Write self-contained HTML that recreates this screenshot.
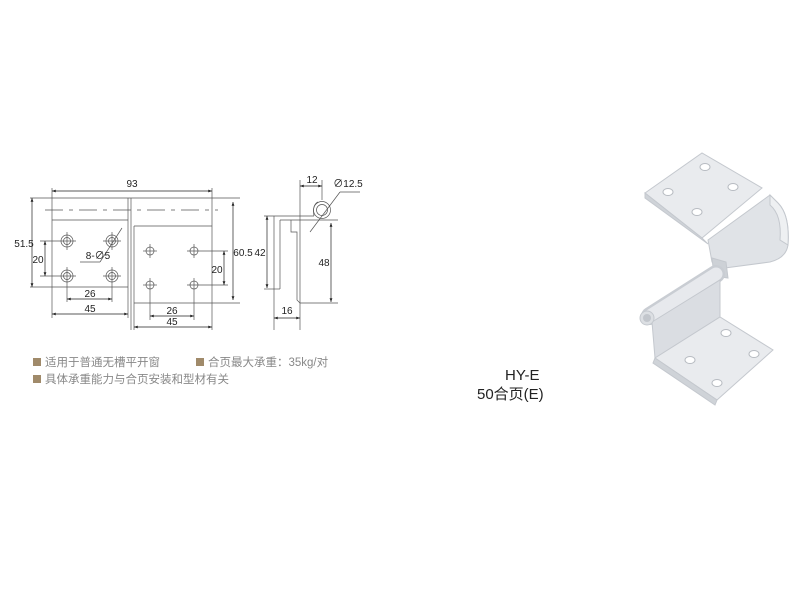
<!DOCTYPE html>
<html><head><meta charset="utf-8"><style>
html,body{margin:0;padding:0;background:#fff;width:800px;height:600px;overflow:hidden}
svg{display:block}
text{font-family:"Liberation Sans","Noto Sans CJK SC",sans-serif}
</style></head><body>
<svg width="800" height="600" viewBox="0 0 800 600" xmlns="http://www.w3.org/2000/svg">
<defs>
<marker id="a" viewBox="0 0 8 6" refX="8" refY="3" markerWidth="6" markerHeight="4" orient="auto-start-reverse"><path d="M0,0L8,3L0,6z" fill="#222"/></marker>
</defs>
<g stroke="#555" stroke-width="0.7" fill="none">
<line x1="30" y1="198" x2="240" y2="198"/>
<line x1="45" y1="210" x2="218" y2="210" stroke-dasharray="18,6,4,6"/>
<line x1="52" y1="188" x2="52" y2="318"/>
<line x1="52" y1="220" x2="128" y2="220"/>
<line x1="30" y1="287" x2="128" y2="287"/>
<line x1="128" y1="198" x2="128" y2="318"/>
<line x1="131" y1="198" x2="131" y2="330"/>
<line x1="134" y1="226" x2="212" y2="226"/>
<line x1="134" y1="226" x2="134" y2="330"/>
<line x1="212" y1="188" x2="212" y2="330"/>
<line x1="134" y1="303" x2="240" y2="303"/>
<g>
<circle cx="67" cy="241" r="6"/><circle cx="67" cy="241" r="3.5"/>
<circle cx="112" cy="241" r="6"/><circle cx="112" cy="241" r="3.5"/>
<circle cx="67" cy="276" r="6"/><circle cx="67" cy="276" r="3.5"/>
<circle cx="112" cy="276" r="6"/><circle cx="112" cy="276" r="3.5"/>
<line x1="58" y1="241" x2="76" y2="241"/><line x1="103" y1="241" x2="121" y2="241"/>
<line x1="40" y1="276" x2="76" y2="276"/><line x1="103" y1="276" x2="121" y2="276"/>
<line x1="40" y1="241" x2="58" y2="241"/>
<line x1="67" y1="232" x2="67" y2="250"/><line x1="112" y1="232" x2="112" y2="250"/>
<line x1="67" y1="267" x2="67" y2="302"/><line x1="112" y1="267" x2="112" y2="302"/>
</g>
<g>
<circle cx="150" cy="251" r="4"/><circle cx="194" cy="251" r="4"/>
<circle cx="150" cy="285" r="4"/><circle cx="194" cy="285" r="4"/>
<line x1="143" y1="251" x2="157" y2="251"/><line x1="187" y1="251" x2="228" y2="251"/>
<line x1="143" y1="285" x2="157" y2="285"/><line x1="187" y1="285" x2="228" y2="285"/>
<line x1="150" y1="244" x2="150" y2="258"/><line x1="194" y1="244" x2="194" y2="258"/>
<line x1="150" y1="278" x2="150" y2="320"/><line x1="194" y1="278" x2="194" y2="320"/>
</g>
<line x1="80" y1="262" x2="100" y2="262"/><line x1="100" y1="262" x2="122" y2="228"/>
</g>
<g stroke="#222" stroke-width="0.7" fill="none">
<line x1="52" y1="191" x2="212" y2="191" marker-start="url(#a)" marker-end="url(#a)"/>
<line x1="32" y1="198" x2="32" y2="287" marker-start="url(#a)" marker-end="url(#a)"/>
<line x1="45" y1="241" x2="45" y2="276" marker-start="url(#a)" marker-end="url(#a)"/>
<line x1="67" y1="299" x2="112" y2="299" marker-start="url(#a)" marker-end="url(#a)"/>
<line x1="52" y1="314" x2="128" y2="314" marker-start="url(#a)" marker-end="url(#a)"/>
<line x1="233" y1="202" x2="233" y2="300" marker-start="url(#a)" marker-end="url(#a)"/>
<line x1="224" y1="251" x2="224" y2="285" marker-start="url(#a)" marker-end="url(#a)"/>
<line x1="150" y1="316" x2="194" y2="316" marker-start="url(#a)" marker-end="url(#a)"/>
<line x1="134" y1="327" x2="212" y2="327" marker-start="url(#a)" marker-end="url(#a)"/>
</g>
<g font-size="10" fill="#222" text-anchor="middle">
<text x="132" y="187">93</text>
<text x="24" y="247">51.5</text>
<text x="38" y="263">20</text>
<text x="90" y="297">26</text>
<text x="90" y="312">45</text>
<text x="98" y="259">8-∅5</text>
<text x="243" y="256">60.5</text>
<text x="217" y="273">20</text>
<text x="172" y="314">26</text>
<text x="172" y="325">45</text>
</g>
<g stroke="#555" stroke-width="0.7" fill="none">
<line x1="264" y1="216" x2="314" y2="216"/>
<line x1="274" y1="216" x2="274" y2="330"/>
<line x1="280" y1="220" x2="280" y2="289"/>
<line x1="264" y1="289" x2="280" y2="289"/>
<line x1="280" y1="220" x2="338" y2="220"/>
<line x1="300" y1="180" x2="300" y2="330"/>
<line x1="322" y1="180" x2="322" y2="200"/>
<path d="M291,220V232H297V300L300,303H338"/>
<circle cx="322" cy="210" r="8.5"/><circle cx="322" cy="210" r="5.5"/>
<path d="M314,216Q312,205 318,202"/>
<line x1="310" y1="232" x2="340" y2="192"/>
<line x1="340" y1="192" x2="360" y2="192"/>
</g>
<g stroke="#222" stroke-width="0.7" fill="none">
<line x1="300" y1="186" x2="322" y2="186" marker-start="url(#a)" marker-end="url(#a)"/>
<line x1="267" y1="216" x2="267" y2="288" marker-start="url(#a)" marker-end="url(#a)"/>
<line x1="331" y1="223" x2="331" y2="302" marker-start="url(#a)" marker-end="url(#a)"/>
<line x1="274" y1="318" x2="300" y2="318" marker-start="url(#a)" marker-end="url(#a)"/>
</g>
<g font-size="10" fill="#222" text-anchor="middle">
<text x="312" y="183">12</text>
<text x="348" y="187">∅12.5</text>
<text x="260" y="256">42</text>
<text x="324" y="266">48</text>
<text x="287" y="314">16</text>
</g>
<g font-size="11.5" fill="#888">
<rect x="33" y="358" width="8" height="8" fill="#a08a6a"/>
<text x="45" y="366">适用于普通无槽平开窗</text>
<rect x="196" y="358" width="8" height="8" fill="#a08a6a"/>
<text x="208" y="366">合页最大承重：35kg/对</text>
<rect x="33" y="375" width="8" height="8" fill="#a08a6a"/>
<text x="45" y="383">具体承重能力与合页安装和型材有关</text>
</g>
<text x="505" y="380" font-size="15" fill="#222">HY-E</text>
<text x="477" y="399" font-size="15" fill="#222">50合页(E)</text>
<!-- hinge picture -->
<g stroke="#c4c8ce" stroke-width="1">
<!-- upper block with barrel -->
<path d="M708,240 L770,195 L778,203 Q790,215 788,245 Q786,258 770,262 L725,268 L712,262 Z" fill="#e0e3e7"/>
<path d="M770,195 L778,203 Q790,215 788,245 L780,240 Q782,215 770,205 Z" fill="#eef0f2"/>
<!-- upper plate -->
<polygon points="645,193 702,153 762,188 702,238" fill="#e9ebee"/>
<polygon points="645,193 702,238 708,244 645,198" fill="#cfd3d8"/>
<!-- ring -->
<polygon points="712,258 726,262 728,278 714,276" fill="#cdd1d6"/>
<!-- lower barrel -->
<line x1="650" y1="316" x2="716" y2="274" stroke="#c9cdd3" stroke-width="18" stroke-linecap="round"/>
<line x1="650" y1="316" x2="716" y2="274" stroke="#e7e9ed" stroke-width="13" stroke-linecap="round"/>
<!-- lower vertical leaf -->
<polygon points="652,322 720,280 720,317 655,358" fill="#dadde2"/>
<!-- lower plate -->
<polygon points="655,358 720,317 773,350 717,400" fill="#e9ebee"/>
<polygon points="655,358 717,400 715,405 653,363" fill="#cfd3d8"/>
</g>
<circle cx="647" cy="318" r="7" fill="#dcdfe3" stroke="#c4c8ce"/>
<circle cx="647" cy="318" r="4" fill="#c2c6cc"/>
<g fill="#fff" stroke="#b8bcc2" stroke-width="1">
<ellipse cx="705" cy="167" rx="5" ry="3.5"/><ellipse cx="668" cy="192" rx="5" ry="3.5"/>
<ellipse cx="733" cy="187" rx="5" ry="3.5"/><ellipse cx="697" cy="212" rx="5" ry="3.5"/>
<ellipse cx="726" cy="333" rx="5" ry="3.5"/><ellipse cx="690" cy="360" rx="5" ry="3.5"/>
<ellipse cx="754" cy="354" rx="5" ry="3.5"/><ellipse cx="717" cy="383" rx="5" ry="3.5"/>
</g>
</svg>
</body></html>
